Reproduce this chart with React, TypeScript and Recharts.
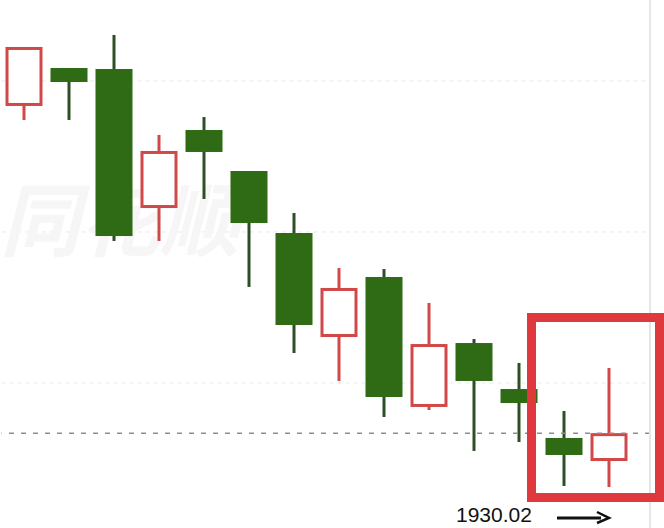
import React from 'react';
import { ComposedChart, Bar, XAxis, YAxis, CartesianGrid, ReferenceLine } from 'recharts';

// candles, oldest first
const labels = ['1', '2', '3', '4', '5', '6', '7', '8', '9', '10', '11', '12', '13', '14'];
const opens = [1962.52, 1966.29, 1966.19, 1952.38, 1960.13, 1956.06, 1949.9, 1939.57, 1945.53, 1932.62, 1938.97, 1934.4, 1929.54, 1927.25];
const closes = [1968.38, 1964.9, 1949.6, 1958.05, 1957.95, 1950.89, 1940.76, 1944.44, 1933.61, 1938.87, 1935.2, 1933.01, 1927.85, 1930.02];
const highs = [1968.38, 1966.29, 1969.57, 1959.64, 1961.42, 1956.06, 1951.89, 1946.42, 1946.32, 1942.95, 1939.37, 1936.99, 1932.22, 1936.49];
const lows = [1961.13, 1961.13, 1949.11, 1949.11, 1953.28, 1944.54, 1937.98, 1935.2, 1931.62, 1932.32, 1928.25, 1929.14, 1924.77, 1924.67];

const gridTicks = [1935, 1950, 1965];
const priceDomain = [1920.596, 1973.046];
const lastPrice = 1930.02;

const data = labels.map((name, i) => ({
  name,
  open: opens[i],
  close: closes[i],
  high: highs[i],
  low: lows[i],
}));

const UP = '#d04848';
const DOWN = '#2f6a14';
const DOWN_WICK = '#2c4f24';

const Candle = (props: any) => {
  const { x, y, width, height, payload } = props;
  if (!payload) return null;
  const top = Math.min(y, y + height);
  const h = Math.abs(height);
  const { open, close, high, low } = payload;
  const ratio = h / (high - low);
  const bodyTop = top + (high - Math.max(open, close)) * ratio;
  const bodyBot = top + (high - Math.min(open, close)) * ratio;
  const cx = x + width / 2;
  const up = close >= open;

  if (up) {
    return (
      <g>
        <line x1={cx} x2={cx} y1={top} y2={bodyTop} stroke={UP} strokeWidth={3} />
        <line x1={cx} x2={cx} y1={bodyBot} y2={top + h} stroke={UP} strokeWidth={3} />
        <rect x={x + 1.5} y={bodyTop + 1.5} width={width - 3} height={Math.max(bodyBot - bodyTop - 3, 1)} fill="#fff" stroke={UP} strokeWidth={3} />
      </g>
    );
  }
  return (
    <g>
      <line x1={cx} x2={cx} y1={top} y2={top + h} stroke={DOWN_WICK} strokeWidth={3} />
      <rect x={x} y={bodyTop} width={width} height={Math.max(bodyBot - bodyTop, 1)} fill={DOWN} />
    </g>
  );
};

// grid rows at the price ticks, behind the candles
const gridRows = ({ offset }: any) => {
  const [lo, hi] = priceDomain;
  const top = offset?.top ?? 0;
  const h = offset?.height ?? 528;
  return gridTicks.map((t) => top + ((hi - t) / (hi - lo)) * h);
};

const App: React.FC = () => {
  return (
    <div style={{ position: 'absolute', left: 0, top: 0, width: 664, height: 528, background: '#fff', overflow: 'hidden' }}>
      <ComposedChart
        width={664}
        height={528}
        data={data}
        margin={{ top: 0, right: 0, left: 1.5, bottom: 0 }}
      >
        <text x={0} y={250} fontSize={80} fontWeight={700} fontStyle="italic" fill="#f6f6f6" fontFamily="'Noto Sans CJK SC', sans-serif">
          同花顺
        </text>
        <CartesianGrid
          vertical={false}
          stroke="#e8e8e8"
          strokeDasharray="4 4"
          horizontalCoordinatesGenerator={gridRows}
        />
        <XAxis dataKey="name" hide padding={{ left: 0, right: 18.5 }} />
        <YAxis
          orientation="right"
          width={14}
          domain={priceDomain}
          ticks={gridTicks}
          tick={false}
          tickLine={false}
          axisLine={{ stroke: '#e6e6e6', strokeWidth: 2 }}
        />
        <ReferenceLine y={lastPrice} stroke="#8e8e8e" strokeWidth={1.5} strokeDasharray="5 7" />
        <Bar dataKey={(d: any) => [d.low, d.high]} barSize={37} shape={<Candle />} isAnimationActive={false} />
      </ComposedChart>
      <div
        style={{
          position: 'absolute',
          left: 527,
          top: 313,
          width: 137,
          height: 189,
          boxSizing: 'border-box',
          border: '9px solid #e0393d',
        }}
      />
      <svg width={664} height={528} style={{ position: 'absolute', left: 0, top: 0 }}>
        <text x={456} y={522} fontSize={21} fontFamily="'Liberation Sans', Arial, sans-serif" fill="#111">
          {lastPrice.toFixed(2)}
        </text>
        <line x1={557} x2={601} y1={518} y2={518} stroke="#111" strokeWidth={3} />
        <path d="M 597 512 L 609 518 L 597 523" fill="none" stroke="#111" strokeWidth={2.5} />
      </svg>
    </div>
  );
};

export default App;
